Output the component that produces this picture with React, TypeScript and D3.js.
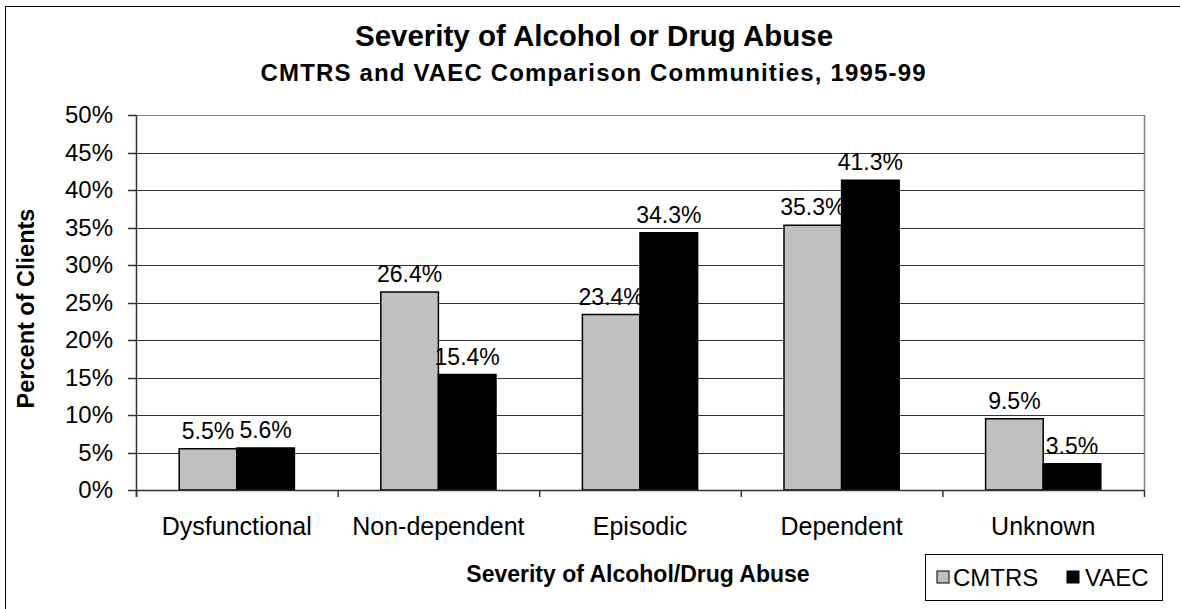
import React from "react";
import * as d3 from "d3";

const categories = ["Dysfunctional", "Non-dependent", "Episodic", "Dependent", "Unknown"];
const seriesNames = ["CMTRS", "VAEC"];
const cmtrsValues = [5.5, 26.4, 23.4, 35.3, 9.5];
const vaecValues = [5.6, 15.4, 34.3, 41.3, 3.5];
const yTicks = [0, 5, 10, 15, 20, 25, 30, 35, 40, 45, 50];
const seriesColors = ["#C0C0C0", "#000000"];

const W = 1180;
const H = 609;
const plot = { left: 136, right: 1144, top: 115, bottom: 490 };
const FONT = "'Liberation Sans', Arial, sans-serif";

export default function App() {
  const x0 = d3.scaleBand<string>().domain(categories).range([plot.left, plot.right]).paddingInner(0).paddingOuter(0);
  const bw = x0.bandwidth() / 3.5;
  const y = d3.scaleLinear().domain([0, 50]).range([plot.bottom, plot.top]);
  const series = [cmtrsValues, vaecValues];

  return (
    <svg width={W} height={H} style={{ position: "absolute", left: 0, top: 0, background: "#fff" }} fontFamily={FONT}>
      <rect x={5.5} y={6.5} width={W + 10} height={H + 10} fill="#fff" stroke="#000" strokeWidth={1} />
      <text x={594} y={46} textAnchor="middle" fontSize={29.5} fontWeight="bold">Severity of Alcohol or Drug Abuse</text>
      <text x={593} y={81} textAnchor="middle" fontSize={24} fontWeight="bold" textLength={665} lengthAdjust="spacing">CMTRS and VAEC Comparison Communities, 1995-99</text>

      {/* gridlines */}
      {yTicks.map((t) => (
        <line key={"g" + t} x1={plot.left} x2={plot.right} y1={Math.round(y(t)) + 0.5} y2={Math.round(y(t)) + 0.5}
          stroke={t === 50 ? "#808080" : "#333"} strokeWidth={1} />
      ))}
      <line x1={plot.right + 0.5} x2={plot.right + 0.5} y1={plot.top} y2={plot.bottom} stroke="#808080" strokeWidth={1.5} />

      {/* bars */}
      {categories.map((c, i) =>
        series.map((vals, s) => {
          const bx = (x0(c) as number) + bw * 0.75 + s * bw;
          const by = y(vals[i]);
          return (
            <g key={c + s}>
              <rect x={bx} y={by} width={bw} height={plot.bottom - by} fill={seriesColors[s]} stroke="#000" strokeWidth={1.5} />
              <text x={bx + bw / 2} y={by - 10} textAnchor="middle" fontSize={23}>{vals[i].toFixed(1)}%</text>
            </g>
          );
        })
      )}

      {/* axes */}
      <line x1={plot.left + 0.5} x2={plot.left + 0.5} y1={plot.top} y2={plot.bottom + 7} stroke="#333" strokeWidth={1.5} />
      <line x1={plot.left} x2={plot.right} y1={plot.bottom + 0.5} y2={plot.bottom + 0.5} stroke="#333" strokeWidth={1.5} />
      {yTicks.map((t) => (
        <g key={"t" + t}>
          <line x1={plot.left - 8} x2={plot.left} y1={Math.round(y(t)) + 0.5} y2={Math.round(y(t)) + 0.5} stroke="#333" strokeWidth={1.5} />
          <text x={113} y={y(t) + 8} textAnchor="end" fontSize={24}>{t}%</text>
        </g>
      ))}
      {categories.map((c) => (
        <g key={"c" + c}>
          <line x1={(x0(c) as number) + 0.5} x2={(x0(c) as number) + 0.5} y1={plot.bottom} y2={plot.bottom + 7} stroke="#333" strokeWidth={1.5} />
          <text x={(x0(c) as number) + x0.bandwidth() / 2} y={535} textAnchor="middle" fontSize={25}>{c}</text>
        </g>
      ))}
      <line x1={plot.right + 0.5} x2={plot.right + 0.5} y1={plot.bottom} y2={plot.bottom + 7} stroke="#333" strokeWidth={1.5} />

      <text x={638} y={582} textAnchor="middle" fontSize={23} fontWeight="bold">Severity of Alcohol/Drug Abuse</text>
      <text transform={`translate(34,${(plot.top + plot.bottom) / 2 + 6}) rotate(-90)`} textAnchor="middle" fontSize={23.5} fontWeight="bold">Percent of Clients</text>

      {/* legend */}
      <rect x={925.5} y={554.5} width={237} height={46} fill="#fff" stroke="#000" strokeWidth={1} />
      {seriesNames.map((n, s) => (
        <g key={n}>
          <rect x={937 + s * 130} y={571} width={12} height={12} fill={seriesColors[s]} stroke="#000" strokeWidth={1} />
          <text x={953 + s * 132} y={586} fontSize={24}>{n}</text>
        </g>
      ))}
    </svg>
  );
}
